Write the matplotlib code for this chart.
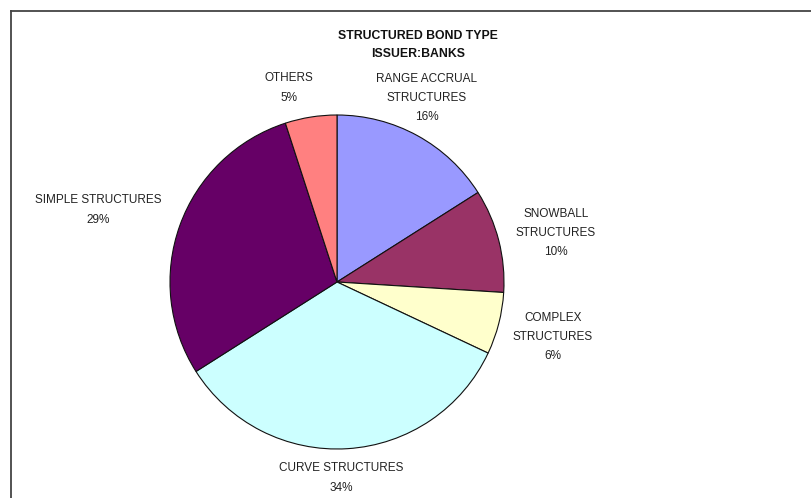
import matplotlib.pyplot as plt
from matplotlib.lines import Line2D

# slice data, clockwise from 12 o'clock
categories = [
    'RANGE ACCRUAL\nSTRUCTURES',
    'SNOWBALL\nSTRUCTURES',
    'COMPLEX\nSTRUCTURES',
    'CURVE STRUCTURES',
    'SIMPLE STRUCTURES',
    'OTHERS',
]
shares = [16, 10, 6, 34, 29, 5]
colors = ['#9999FF', '#993366', '#FFFFCC', '#CCFFFF', '#660066', '#FF8080']

# label anchors in pixel coords (x, y from top)
label_pos = [(427, 98), (556, 233), (553, 337), (341, 478), (98, 210), (289, 88)]

W, H = 812, 498
fig = plt.figure(figsize=(W / 100, H / 100), dpi=100)
plt.rcParams['font.family'] = ['Liberation Sans', 'DejaVu Sans']

ax = fig.add_axes([0, 0, 1, 1])
ax.set_xlim(0, W)
ax.set_ylim(0, H)
ax.set_aspect('equal')
ax.axis('off')

cx, cy, r = 337, 282, 167
ax.pie(
    shares,
    colors=colors,
    startangle=90,
    counterclock=False,
    center=(cx, H - cy),
    radius=r,
    wedgeprops=dict(edgecolor='#111111', linewidth=0.8),
    frame=True,
)
ax.set_xlim(0, W)
ax.set_ylim(0, H)
ax.axis('off')

for name, val, (px, py) in zip(categories, shares, label_pos):
    ax.text(px, H - py, f'{name}\n{val}%', ha='center', va='center',
            fontsize=8.5, color='#222222', linespacing=1.8)

# chart title
ax.text(418, H - 45, 'STRUCTURED BOND TYPE\nISSUER:BANKS', ha='center',
        va='center', fontsize=8.8, fontweight='bold', color='#111111',
        linespacing=1.75)

# chart area border (top and left edges)
fig.add_artist(Line2D([11 / W, 1], [1 - 11 / H, 1 - 11 / H],
                      transform=fig.transFigure, color='#444444', lw=1.3))
fig.add_artist(Line2D([11 / W, 11 / W], [0, 1 - 11 / H],
                      transform=fig.transFigure, color='#444444', lw=1.3))

plt.savefig('out.png', dpi=100)
